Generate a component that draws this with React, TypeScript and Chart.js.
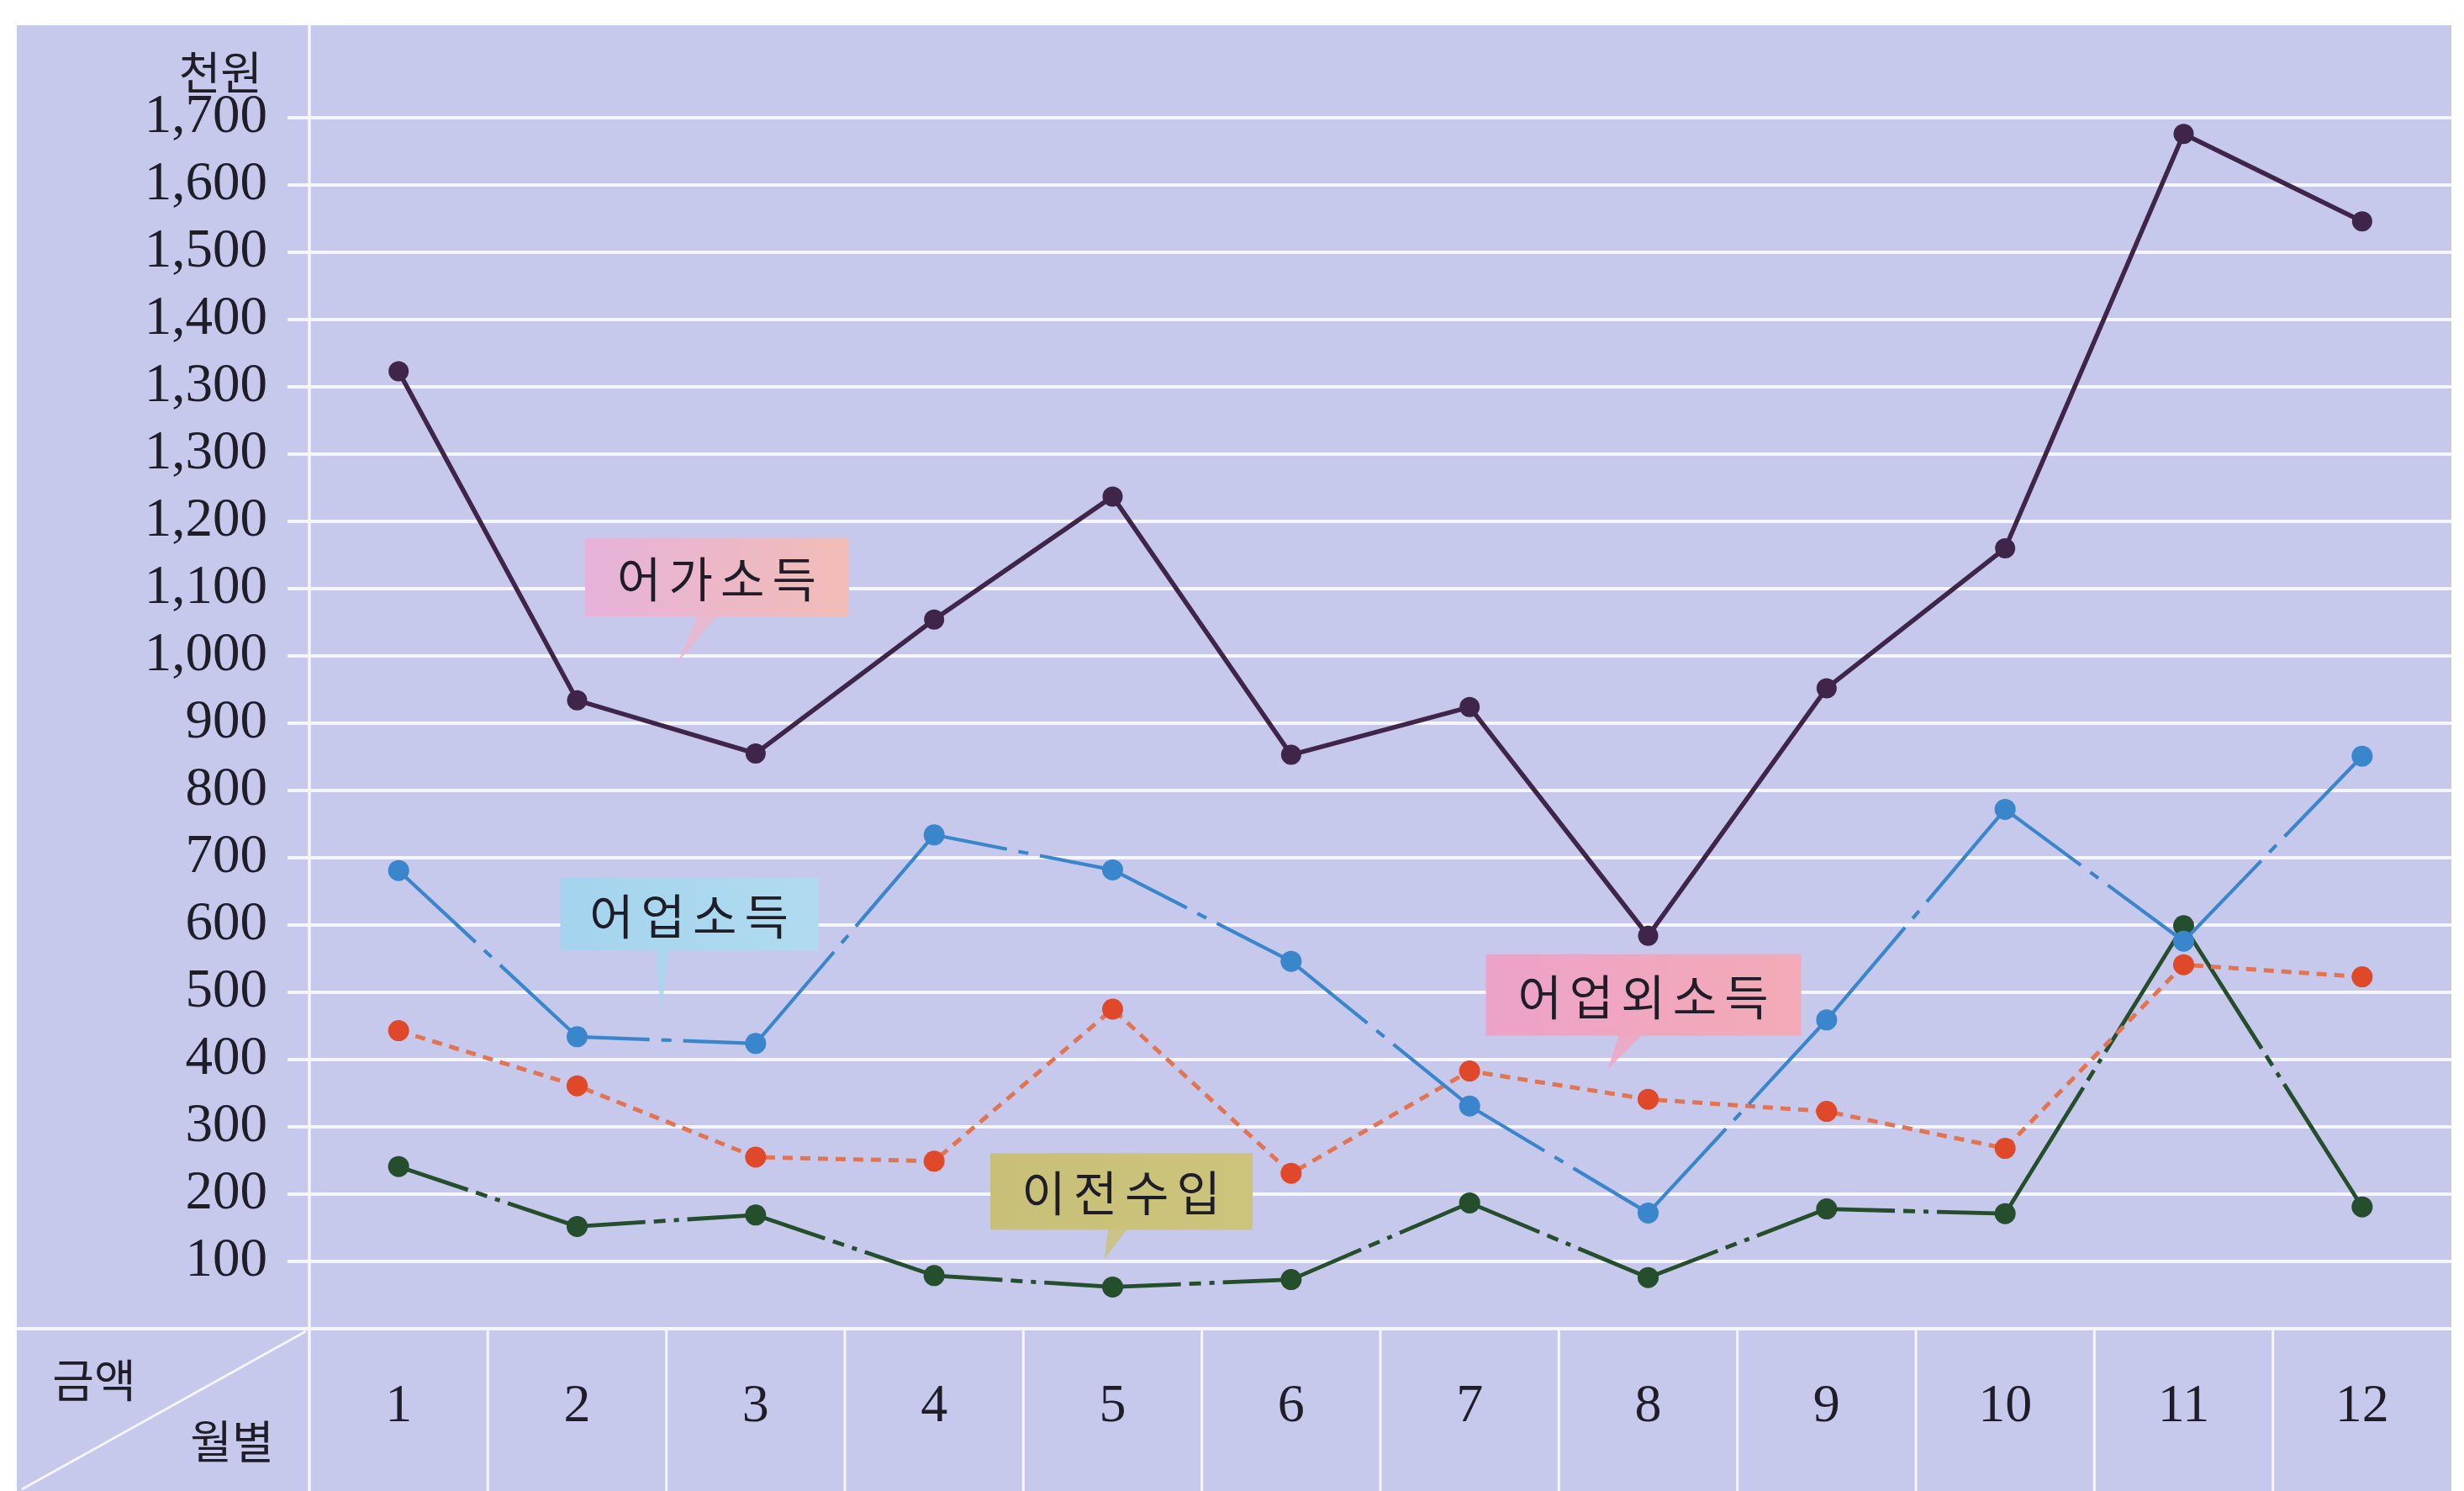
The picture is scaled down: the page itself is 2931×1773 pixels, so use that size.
import React, { useEffect, useRef } from 'react';
import { Chart, registerables } from 'chart.js';

Chart.register(...registerables);

// ---------- data ----------
const months = ['1', '2', '3', '4', '5', '6', '7', '8', '9', '10', '11', '12'];
const seriesNames = ['어가소득', '어업소득', '어업외소득', '이전수입'];
const householdIncome = [1423, 934, 855, 1054, 1237, 853, 924, 584, 952, 1160, 1776, 1646]; // 어가소득
const fisheryIncome = [681, 434, 424, 734, 682, 546, 331, 172, 459, 772, 576, 851]; // 어업소득
const nonFisheryIncome = [443, 361, 255, 249, 475, 231, 383, 341, 323, 268, 541, 523]; // 어업외소득
const transferIncome = [241, 152, 169, 79, 62, 73, 187, 76, 178, 171, 599, 181]; // 이전수입
const yTickValues = [100, 200, 300, 400, 500, 600, 700, 800, 900, 1000, 1100, 1200, 1300, 1400, 1500, 1600, 1700, 1800];
const yTickLabels = ['100', '200', '300', '400', '500', '600', '700', '800', '900', '1,000', '1,100', '1,200', '1,300', '1,300', '1,400', '1,500', '1,600', '1,700'];
const unitLabel = '천원';
const cornerTopLabel = '금액';
const cornerBottomLabel = '월별';

// callout boxes anchored in data coordinates (x: category index, y: value)
const callouts = [
  { text: seriesNames[0], x: 1.784, y: 1117, tipX: 1.563, tipY: 990, w: 314, h: 93, base: [-23, 0], colors: ['#e6b2da', '#f2bdb6'] },
  { text: seriesNames[1], x: 1.629, y: 616, tipX: 1.469, tipY: 469, w: 307, h: 86, base: [-40, -24], colors: ['#a4d4ee', '#b0dbef'] },
  { text: seriesNames[2], x: 6.974, y: 496, tipX: 6.772, tipY: 385, w: 375, h: 97, base: [-29, -2], colors: ['#eda2c8', '#f3abb6'] },
  { text: seriesNames[3], x: 4.05, y: 204, tipX: 3.955, tipY: 104, w: 312, h: 91, base: [-16, 7], colors: ['#c8c078', '#cdc47c'] },
];

// ---------- style ----------
const W = 2931;
const H = 1773;
const PANEL_L = 20;
const PANEL_T = 30;
const PANEL_R = 2916;
const AXIS_W = 368;
const BASE_Y = 1580;
const PANEL_COLOR = '#c6c8ec';
const LINE_WHITE = '#f5f5fb';
const SERIF = '"Liberation Serif", "DejaVu Serif", serif';
const KR = '"Noto Sans CJK KR", "Noto Sans", sans-serif';
const TEXT = '#1f1d28';

function midBreakDash(gaps: number[]) {
  return (ctx: any) => {
    const dx = ctx.p1.x - ctx.p0.x;
    const dy = ctx.p1.y - ctx.p0.y;
    const L = Math.sqrt(dx * dx + dy * dy);
    const mid = gaps.reduce((a, b) => a + b, 0);
    const first = Math.max(1, (L - mid) / 2);
    return [first, ...gaps, L + 2000 + ctx.p0DataIndex * 0.001];
  };
}

const decor = {
  id: 'decor',
  beforeDraw(chart: any) {
    const { ctx } = chart;
    ctx.save();
    ctx.fillStyle = '#ffffff';
    ctx.fillRect(0, 0, W, H);
    ctx.fillStyle = PANEL_COLOR;
    ctx.fillRect(PANEL_L, PANEL_T, PANEL_R - PANEL_L, H - PANEL_T);
    ctx.restore();
  },
  beforeDatasetsDraw(chart: any) {
    const { ctx, chartArea } = chart;
    const x = chart.scales.x;
    const y = chart.scales.y;
    const base = y.getPixelForValue(0);
    ctx.save();
    ctx.strokeStyle = LINE_WHITE;
    ctx.lineWidth = 4;
    // horizontal separator
    ctx.beginPath();
    ctx.moveTo(PANEL_L, base);
    ctx.lineTo(chartArea.right, base);
    ctx.stroke();
    // vertical divider
    ctx.lineWidth = 3.5;
    ctx.beginPath();
    ctx.moveTo(chartArea.left, PANEL_T);
    ctx.lineTo(chartArea.left, H);
    ctx.stroke();
    // month cell dividers
    ctx.lineWidth = 3;
    for (let i = 1; i < months.length; i++) {
      const px = (x.getPixelForValue(i - 1) + x.getPixelForValue(i)) / 2;
      ctx.beginPath();
      ctx.moveTo(px, base);
      ctx.lineTo(px, H);
      ctx.stroke();
    }
    // diagonal
    ctx.beginPath();
    ctx.moveTo(chartArea.left - 4, base + 3);
    ctx.lineTo(PANEL_L + 6, H - 2);
    ctx.stroke();

    // header texts
    ctx.fillStyle = TEXT;
    ctx.font = `54px ${KR}`;
    ctx.textBaseline = 'middle';
    ctx.textAlign = 'right';
    ctx.fillText(unitLabel, 312, 86);
    ctx.textAlign = 'center';
    ctx.fillText(cornerTopLabel, 112, 1641);
    ctx.fillText(cornerBottomLabel, 276, 1714);

    // callouts
    for (const c of callouts) {
      const cx = x.getPixelForValue(c.x);
      const cy = y.getPixelForValue(c.y);
      const tx = x.getPixelForValue(c.tipX);
      const ty = y.getPixelForValue(c.tipY);
      const left = cx - c.w / 2;
      const top = cy - c.h / 2;
      const g = ctx.createLinearGradient(left, 0, left + c.w, 0);
      g.addColorStop(0, c.colors[0]);
      g.addColorStop(1, c.colors[1]);
      ctx.fillStyle = g;
      ctx.globalAlpha = 0.85;
      ctx.beginPath();
      ctx.moveTo(cx + c.base[0], top + c.h - 1);
      ctx.lineTo(cx + c.base[1], top + c.h - 1);
      ctx.lineTo(tx, ty);
      ctx.closePath();
      ctx.fill();
      ctx.globalAlpha = 1;
      ctx.fillRect(left, top, c.w, c.h);
      ctx.fillStyle = TEXT;
      ctx.font = `57px ${KR}`;
      ctx.textAlign = 'center';
      ctx.textBaseline = 'middle';
      (ctx as any).letterSpacing = '9px';
      ctx.fillText(c.text, cx + 4, cy + 2);
      (ctx as any).letterSpacing = '0px';
    }
    ctx.restore();
  },
};

export default function App() {
  const ref = useRef<HTMLCanvasElement | null>(null);
  useEffect(() => {
    if (!ref.current) return;
    const chart = new Chart(ref.current, {
      type: 'line',
      data: {
        labels: months,
        datasets: [
          {
            label: seriesNames[0],
            data: householdIncome,
            borderColor: '#3e2549',
            backgroundColor: '#3e2549',
            pointBackgroundColor: '#3e2549',
            borderWidth: 5.5,
            pointRadius: 12,
            pointBorderWidth: 0,
          },
          {
            label: seriesNames[1],
            data: fisheryIncome,
            borderColor: '#3a86cc',
            backgroundColor: '#3a86cc',
            pointBackgroundColor: '#3a86cc',
            borderWidth: 4.2,
            pointRadius: 12.5,
            pointBorderWidth: 0,
            segment: { borderDash: midBreakDash([14, 12, 14]) },
          },
          {
            label: seriesNames[2],
            data: nonFisheryIncome,
            borderColor: '#e27452',
            backgroundColor: '#e0482a',
            pointBackgroundColor: '#e0482a',
            borderWidth: 5,
            borderDash: [12, 9],
            pointRadius: 12.5,
            pointBorderWidth: 0,
          },
          {
            label: seriesNames[3],
            data: transferIncome,
            borderColor: '#244e2c',
            backgroundColor: '#244e2c',
            pointBackgroundColor: '#244e2c',
            borderWidth: 4.8,
            pointRadius: 12.5,
            pointBorderWidth: 0,
            segment: { borderDash: midBreakDash([10, 14, 10, 6, 10]) },
          },
        ],
      },
      options: {
        responsive: false,
        animation: false,
        events: [],
        layout: { padding: { left: 0, top: PANEL_T, right: W - PANEL_R, bottom: 0 } },
        plugins: { legend: { display: false }, tooltip: { enabled: false } },
        scales: {
          x: {
            type: 'category',
            offset: true,
            grid: { display: false },
            border: { display: false },
            ticks: {
              font: { family: SERIF, size: 64 },
              color: TEXT,
              padding: 47,
              maxRotation: 0,
              autoSkip: false,
            },
            afterFit: (s: any) => {
              s.height = H - BASE_Y;
              s.paddingLeft = 0;
              s.paddingRight = 0;
            },
          },
          y: {
            type: 'linear',
            min: 0,
            max: (BASE_Y - PANEL_T) / 0.8,
            grid: { color: LINE_WHITE, lineWidth: 4, drawTicks: true, tickLength: 26 },
            border: { display: false },
            afterBuildTicks: (s: any) => {
              s.ticks = yTickValues.map((v) => ({ value: v }));
            },
            ticks: {
              font: { family: SERIF, size: 65 },
              color: TEXT,
              padding: 24,
              callback: (v: any) => {
                const i = yTickValues.indexOf(Number(v));
                return i >= 0 ? yTickLabels[i] : '';
              },
            },
            afterFit: (s: any) => {
              s.width = AXIS_W;
              s.paddingTop = 0;
              s.paddingBottom = 0;
            },
          },
        },
      },
      plugins: [decor],
    });
    return () => chart.destroy();
  }, []);
  return (
    <div style={{ position: 'absolute', left: 0, top: 0, width: W, height: H }}>
      <canvas ref={ref} width={W} height={H} style={{ width: W, height: H, display: 'block' }} />
    </div>
  );
}
